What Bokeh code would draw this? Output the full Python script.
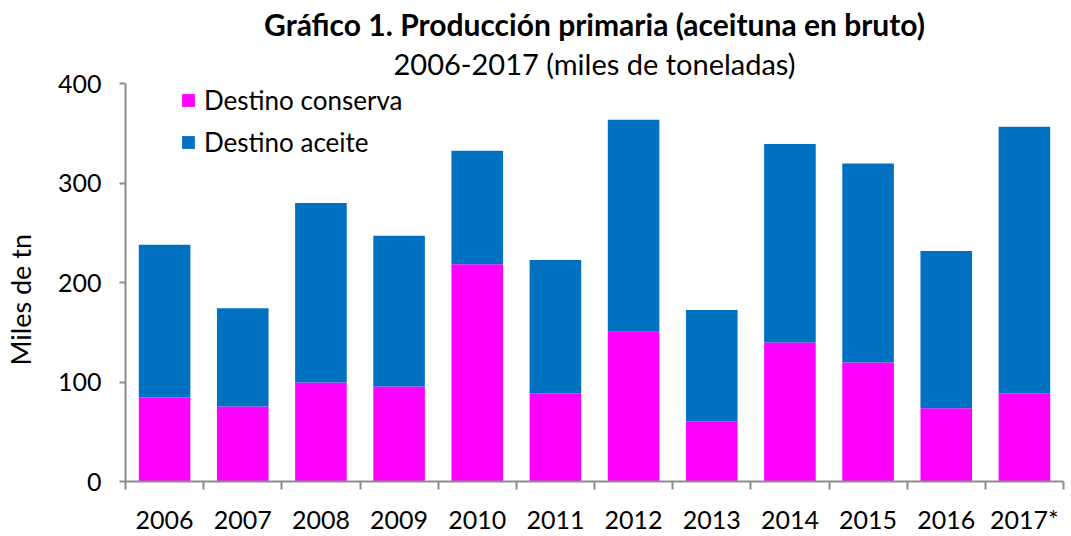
from bokeh.plotting import figure
from bokeh.models import (Range1d, FixedTicker, Legend, LegendItem, Title)
from bokeh.embed import file_html
from bokeh.resources import INLINE

years = ["2006", "2007", "2008", "2009", "2010", "2011", "2012", "2013",
         "2014", "2015", "2016", "2017*"]
conserva = [84.5, 75.5, 99.5, 95.5, 218.3, 88.8, 150.6, 60.5, 139.6, 119.6, 73.5, 88.8]
aceite = [153.5, 98.5, 180.5, 151.5, 114.2, 133.9, 212.9, 111.8, 199.6, 199.9, 158.2, 267.7]
y_ticks = [0, 100, 200, 300, 400]

FONT = "Lato"
n = len(years)
xs = [i + 0.5 for i in range(n)]
data = dict(x=xs, conserva=conserva, aceite=aceite)

p = figure(width=1071, height=536, output_backend="svg", toolbar_location=None,
           x_range=Range1d(0, n), y_range=Range1d(0, 400),
           min_border_left=122, min_border_right=8, min_border_top=83,
           min_border_bottom=53)

r = p.vbar_stack(["conserva", "aceite"], x="x", width=0.66, source=data,
                 color=["#FF00FF", "#0070C0"], line_color=None)

# titles
sub = Title(text="2006-2017 (miles de toneladas)", align="center",
            text_font=FONT, text_font_size="29px", text_font_style="normal",
            text_color="#000000", standoff=5)
main = Title(text="Gráfico 1. Producción primaria (aceituna en bruto)", align="center",
             text_font=FONT, text_font_size="30px", text_font_style="bold",
             text_color="#000000", standoff=0)
p.add_layout(sub, "above")
p.add_layout(main, "above")

# x axis: labels at centres, ticks at category boundaries
xa = p.xaxis[0]
xa.ticker = FixedTicker(ticks=xs, minor_ticks=list(range(n + 1)))
xa.major_label_overrides = {x: y for x, y in zip(xs, years)}
xa.major_tick_out = 0
xa.major_tick_in = 0
xa.minor_tick_out = 8
xa.minor_tick_in = 0
xa.major_label_standoff = 14
xa.major_label_text_font = FONT
xa.major_label_text_font_size = "25px"
xa.major_label_text_color = "#000000"
xa.axis_line_color = "#8C8C8C"
xa.axis_line_width = 2
xa.minor_tick_line_color = "#8C8C8C"
xa.minor_tick_line_width = 2

ya = p.yaxis[0]
ya.ticker = FixedTicker(ticks=y_ticks, minor_ticks=[])
ya.axis_label = "Miles de tn" + "\u00a0" * 5
ya.axis_label_text_font = FONT
ya.axis_label_text_font_size = "27px"
ya.axis_label_text_font_style = "normal"
ya.axis_label_text_color = "#000000"
ya.axis_label_standoff = 18
ya.major_label_text_font = FONT
ya.major_label_text_font_size = "25px"
ya.major_label_text_color = "#000000"
ya.major_tick_out = 6
ya.major_tick_in = 0
ya.major_label_standoff = 18
ya.axis_line_color = "#8C8C8C"
ya.axis_line_width = 2
ya.major_tick_line_color = "#8C8C8C"
ya.major_tick_line_width = 2

p.xgrid.visible = False
p.ygrid.visible = False
p.outline_line_color = None

legend = Legend(items=[LegendItem(label="Destino conserva", renderers=[r[0]]),
                       LegendItem(label="Destino aceite", renderers=[r[1]])],
                location=(55, 323), orientation="vertical",
                label_text_font=FONT, label_text_font_size="26px",
                label_text_color="#000000", glyph_width=16, glyph_height=16,
                label_standoff=8, spacing=10, padding=0, margin=0,
                background_fill_alpha=0, border_line_color=None)
p.add_layout(legend, "center")

open("out.html", "w").write(file_html(p, INLINE))
